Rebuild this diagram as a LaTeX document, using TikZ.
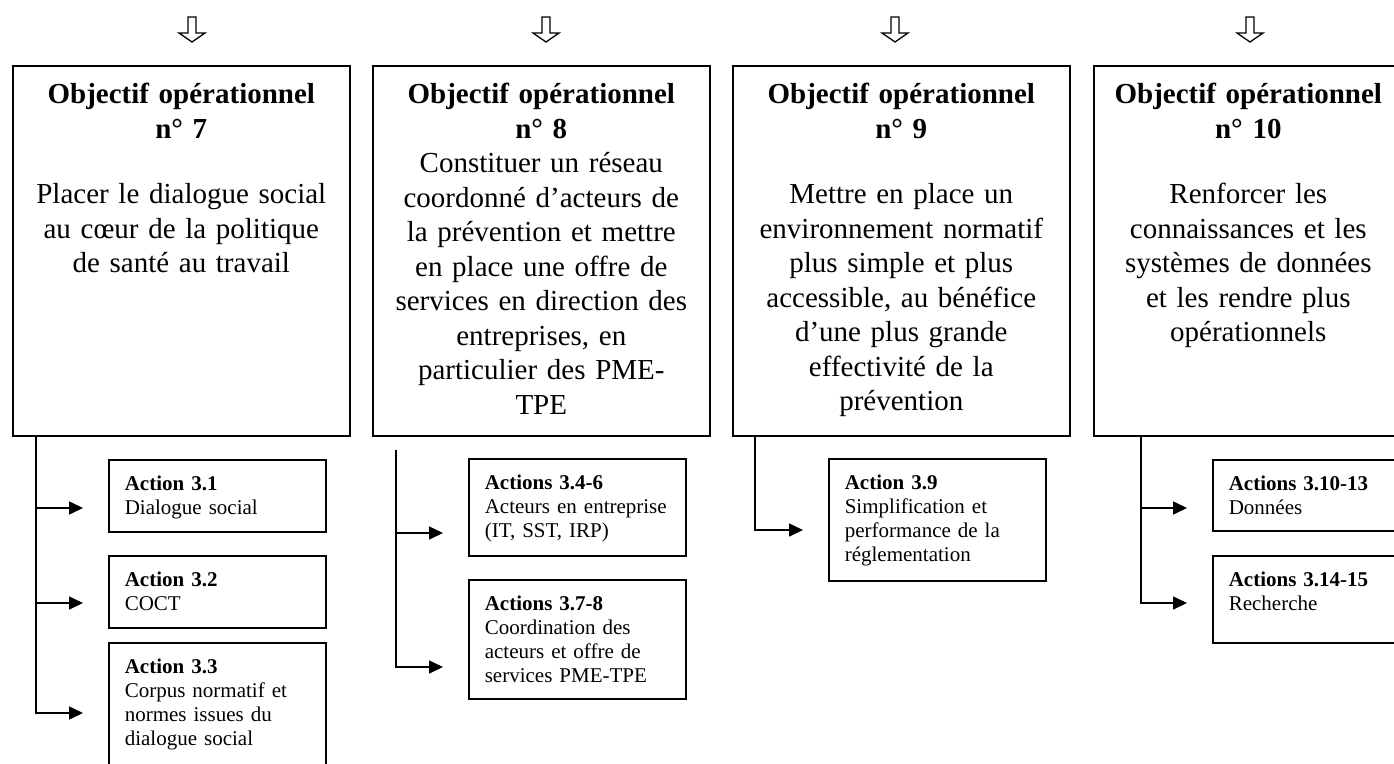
\documentclass[tikz,border=0pt]{standalone}
\usepackage{fontspec}
\setmainfont{Liberation Serif}
\usetikzlibrary{arrows.meta}

\begin{document}
\begin{tikzpicture}[x=1pt,y=-1pt]
   \tikzstyle{objectif}=[draw, line width=1.6pt, anchor=north west, inner xsep=4pt, inner ysep=0pt, text width=329pt, align=center, text height=38pt, text depth=332pt, font=\fontsize{29}{34.5}\selectfont]
   \tikzstyle{action}=[draw, line width=1.6pt, anchor=north west, inner xsep=16pt, inner ysep=0pt, text width=185pt, align=left, text height=31pt, font=\fontsize{21}{24}\selectfont]
   \tikzstyle{lien}=[line width=1.6pt, -{Triangle[length=14pt,width=13pt]}]
   \tikzset{fleche/.pic={\draw[line width=1.3pt, line join=miter] (-4,0) -- (-4,16) -- (-13,16) -- (0,25) -- (13,16) -- (4,16) -- (4,0) -- cycle;}}

\useasboundingbox (0,0) rectangle (1394,763);
\clip (0,0) rectangle (1394,763);

\node[objectif] (obj7) at (12,65) {\textbf{Objectif opérationnel}\\ \textbf{n° 7}\\[31pt]
    Placer le dialogue social\\ au cœur de la politique\\ de santé au travail};
\node[objectif] (obj8) at (372,65) {\textbf{Objectif opérationnel}\\ \textbf{n° 8}\\
    Constituer un réseau\\ coordonné d’acteurs de\\ la prévention et mettre\\ en place une offre de\\
    services en direction des\\ entreprises, en\\ particulier des PME-\\ TPE};
\node[objectif] (obj9) at (732,65) {\textbf{Objectif opérationnel}\\ \textbf{n° 9}\\[31pt]
    Mettre en place un\\ environnement normatif\\ plus simple et plus\\ accessible, au bénéfice\\
    d’une plus grande\\ effectivité de la\\ prévention};
\node[objectif, text width=301pt] (obj10) at (1093,65) {\textbf{Objectif opérationnel}\\ \textbf{n° 10}\\[31pt]
    Renforcer les\\ connaissances et les\\ systèmes de données\\ et les rendre plus\\ opérationnels};

\pic (f7) at (192,17) {fleche};
\pic (f8) at (546,17) {fleche};
\pic (f9) at (895,17) {fleche};
\pic (f10) at (1250,17) {fleche};

\node[action, text depth=41pt] (a31) at (108,459) {\textbf{Action 3.1}\\ Dialogue social};
\node[action, text depth=41pt] (a32) at (108,555) {\textbf{Action 3.2}\\ COCT};
\node[action, text depth=99pt] (a33) at (108,642) {\textbf{Action 3.3}\\ Corpus normatif et\\ normes issues du\\ dialogue social};
\node[action, text depth=66pt] (a34) at (468,458) {\textbf{Actions 3.4-6}\\ Acteurs en entreprise\\ (IT, SST, IRP)};
\node[action, text depth=88pt] (a37) at (468,579) {\textbf{Actions 3.7-8}\\ Coordination des\\ acteurs et offre de\\ services PME-TPE};
\node[action, text depth=91pt] (a39) at (828,458) {\textbf{Action 3.9}\\ Simplification et\\ performance de la\\ réglementation};
\node[action, text depth=40pt] (a310) at (1212,459) {\textbf{Actions 3.10-13}\\ Données};
\node[action, text depth=56pt] (a314) at (1212,555) {\textbf{Actions 3.14-15}\\ Recherche};

\coordinate (t7) at ([xshift=24pt]obj7.south west);
\coordinate (t8) at (396,450);
\coordinate (t9) at ([xshift=23pt]obj9.south west);
\coordinate (t10) at ([xshift=48pt]obj10.south west);
\coordinate (e31) at (83,508);
\coordinate (e32) at (83,603);
\coordinate (e33) at (83,713);
\coordinate (e34) at (443,533);
\coordinate (e37) at (443,667);
\coordinate (e39) at (803,530);
\coordinate (e310) at (1187,508);
\coordinate (e314) at (1187,603);

\draw[lien] (t7) |- (e31);
\draw[lien] (t7) |- (e32);
\draw[lien] (t7) |- (e33);
\draw[lien] (t8) |- (e34);
\draw[lien] (t8) |- (e37);
\draw[lien] (t9) |- (e39);
\draw[lien] (t10) |- (e310);
\draw[lien] (t10) |- (e314);

\end{tikzpicture}
\end{document}
